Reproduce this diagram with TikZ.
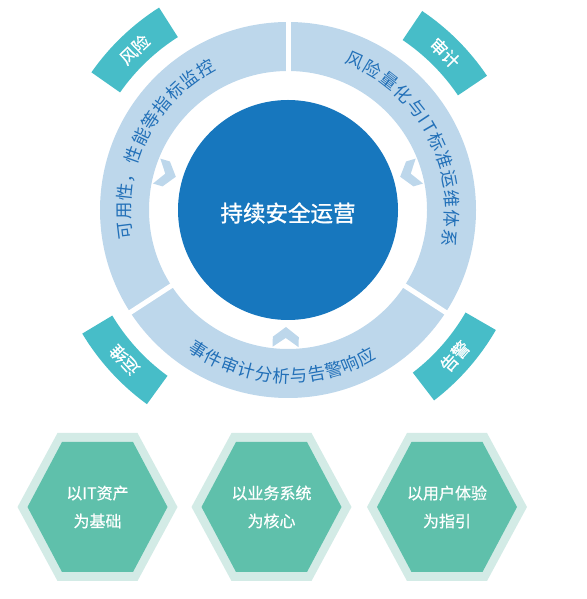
\documentclass[tikz,border=0pt]{standalone}
\usepackage{fontspec}
\usetikzlibrary{decorations.text}
\setmainfont{Noto Sans CJK SC}
\newfontfamily\heavycjk[FakeBold=1.2]{Noto Sans CJK SC}
\newfontfamily\medcjk[FakeBold=0.6]{Noto Sans CJK SC}
\newcommand\ringfont{\fontsize{17.5}{19}\selectfont}
\definecolor{ringblue}{HTML}{BDD7EB}
\definecolor{coreblue}{HTML}{1777BE}
\definecolor{ringtext}{HTML}{2270B8}
\definecolor{tabteal}{HTML}{47BDC8}
\definecolor{hexlight}{HTML}{D3EBE6}
\definecolor{hexteal}{HTML}{5FC0AB}
\tikzset{
  arctext/.style={decorate, decoration={text along path, text={|\ringfont|#1}, text align=fit to path, text color=ringtext}},
  tabtxt/.style={inner sep=0pt, text=white, font=\medcjk\fontsize{17}{19}\selectfont},
  hextxt/.style={inner sep=0pt, text=white, align=center, font=\medcjk\fontsize{16}{28}\selectfont},
  chevron/.style={fill=ringblue}
}
\newcommand\tabsector[4]{%
  \fill[tabteal] (#1:#3) arc[start angle=#1, end angle=#2, radius=#3] -- (#2:#4) arc[start angle=#2, end angle=#1, radius=#4] -- cycle;}
\newcommand\hexcell[3]{%
  \fill[hexlight] (#1-80,92) -- (#1-40,166) -- (#1+40,166) -- (#1+80,92) -- (#1+40,18) -- (#1-40,18) -- cycle;
  \fill[hexteal] (#1-70,92) -- (#1-35.5,157) -- (#1+35.5,157) -- (#1+70,92) -- (#1+35.5,27) -- (#1-35.5,27) -- cycle;
  \node[hextxt] (#2) at (#1,92) {#3};}
\begin{document}
\begin{tikzpicture}[x=1pt,y=1pt]
\useasboundingbox (0,0) rectangle (586,599);
\begin{scope}[shift={(288,389)}]
  % ring
  \fill[ringblue, even odd rule] (0,0) circle[radius=188] (0,0) circle[radius=139];
  \foreach \a in {90,213,327} \draw[white, line width=5pt] (\a:135) -- (\a:192);
  % core
  \node[circle, fill=coreblue, minimum size=220pt, inner sep=0pt] (core) at (0,0) {};
  \node[text=white, inner sep=0pt, font=\heavycjk\fontsize{22.5}{24}\selectfont] (coretxt) at (0,-3) {持续安全运营};
  % chevrons
  \foreach \a in {163.5,16.5,269}
    \fill[chevron, shift={(\a:127)}, rotate=\a+90] (0,10) -- (13,0) -- (13,-10) -- (0,-1) -- (-13,-10) -- (-13,0) -- cycle;
  % tabs
  \tabsector{122.5}{145}{205}{240}
  \tabsector{34}{56}{205}{240}
  \tabsector{211}{234}{205}{240}
  \tabsector{307.5}{330}{205}{240}
  \node[tabtxt, rotate=43.75] (tabA) at (133.75:222) {风险};
  \node[tabtxt, rotate=-45] (tabB) at (45:222) {审计};
  \node[tabtxt, rotate=132.5] (tabC) at (222.5:222) {运维};
  \node[tabtxt, rotate=48.75] (tabD) at (318.75:222) {告警};
  % ring texts along arcs
  \path[arctext={可用性，性能等指标监控}] (190.3:157.4) arc[start angle=190.3, end angle=117.0, radius=157.4];
  \path[arctext={风险量化与IT标准运维体系}] (69.0:157.4) arc[start angle=69.0, end angle=-13.1, radius=157.4];
  \path[arctext={事件审计分析与告警响应}] (234.3:172.6) arc[start angle=234.3, end angle=301.1, radius=172.6];
\end{scope}
% hexagons
\hexcell{97.5}{hexA}{以IT资产\\为基础}
\hexcell{271.5}{hexB}{以业务系统\\为核心}
\hexcell{447}{hexC}{以用户体验\\为指引}
\end{tikzpicture}
\end{document}
